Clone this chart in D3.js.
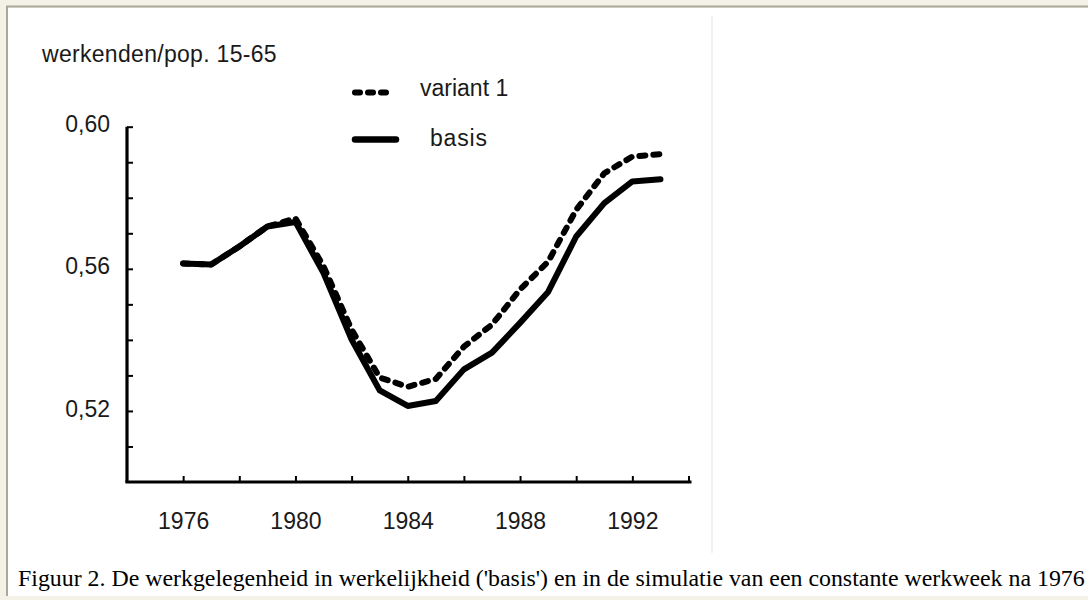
<!DOCTYPE html>
<html><head><meta charset="utf-8">
<script src="https://cdn.jsdelivr.net/npm/d3@7"></script>
<style>
html,body{margin:0;padding:0;background:#fff;}
svg{display:block;}
</style></head>
<body>
<svg id="chart" width="1088" height="600"></svg>
<script>
// ---- data ----
const years = [1976,1977,1978,1979,1980,1981,1982,1983,1984,1985,1986,1987,1988,1989,1990,1991,1992,1993];
const basis = [0.5615,0.5612,0.5663,0.5719,0.5732,0.5588,0.5401,0.5258,0.5214,0.5228,0.5317,0.5364,0.5448,0.5535,0.5691,0.5785,0.5846,0.5852];
const variant1 = [0.5615,0.5612,0.5663,0.5719,0.5742,0.5607,0.5429,0.5294,0.5268,0.5290,0.5381,0.5443,0.5542,0.5620,0.5766,0.5869,0.5916,0.5923];
const xTicks = [1976,1978,1980,1982,1984,1986,1988,1990,1992,1994];
const xLabels = [1976,1980,1984,1988,1992];
const yTicks = [0.51,0.52,0.53,0.54,0.55,0.56,0.57,0.58,0.59,0.60];
const yLabels = [0.52,0.56,0.60];
const yTitle = "werkenden/pop. 15-65";
const legendNames = ["variant 1","basis"];
const caption = "Figuur 2. De werkgelegenheid in werkelijkheid ('basis') en in de simulatie van een constante werkweek na 1976";

const svg = d3.select("#chart");
const W = 1088, H = 600;

// page frame
svg.append("rect").attr("x",0).attr("y",0).attr("width",W).attr("height",H).attr("fill","#f4f2e6");
svg.append("rect").attr("x",8).attr("y",8).attr("width",W-8).attr("height",H-12).attr("fill","#fff");
svg.append("line").attr("x1",6).attr("x2",W).attr("y1",6.5).attr("y2",6.5).attr("stroke","#a9a898").attr("stroke-width",2);
svg.append("line").attr("x1",7).attr("x2",7).attr("y1",6).attr("y2",H-4).attr("stroke","#a9a898").attr("stroke-width",2);
svg.append("line").attr("x1",712).attr("x2",712).attr("y1",16).attr("y2",553).attr("stroke","#ececec").attr("stroke-width",1.5);

const x = d3.scaleLinear().domain([1974,1994]).range([127,688.5]);
const y = d3.scaleLinear().domain([0.50,0.60]).range([482,126.7]);

const font = "'Liberation Sans', Arial, sans-serif";
const fs = 23;

// y axis
const yAxis = d3.axisLeft(y).tickValues(yTicks).tickSizeInner(-6).tickSizeOuter(0).tickPadding(17)
  .tickFormat(d => yLabels.some(v => Math.abs(v-d)<1e-9) ? d3.format(".2f")(d).replace(".",",") : "");
const gy = svg.append("g").attr("transform","translate(127,0)").call(yAxis);
gy.select(".domain").attr("stroke","#000").attr("stroke-width",3.2).attr("d",`M0,${y(0.60)}V${482}`);
gy.selectAll(".tick line").attr("stroke","#000").attr("stroke-width",2);
gy.selectAll(".tick text").attr("font-family",font).attr("font-size",fs).attr("fill","#1a1a1a").attr("dy","0.22em");

// x axis
const xAxis = d3.axisBottom(x).tickValues(xTicks).tickSizeInner(-6).tickSizeOuter(0).tickPadding(31)
  .tickFormat(d => xLabels.includes(d) ? String(d) : "");
const gx = svg.append("g").attr("transform","translate(0,482)").call(xAxis);
gx.select(".domain").attr("stroke","#000").attr("stroke-width",3.2).attr("d",`M${125.4},0H${x(1994)+3}`);
gx.selectAll(".tick line").attr("stroke","#000").attr("stroke-width",2);
gx.selectAll(".tick text").attr("font-family",font).attr("font-size",fs).attr("fill","#1a1a1a");

// title
svg.append("text").attr("x",42).attr("y",62).attr("font-family",font).attr("font-size",fs)
  .attr("fill","#1a1a1a").attr("letter-spacing",0.3).text(yTitle);

// lines
const line = d3.line().x((d,i)=>x(years[i])).y(d=>y(d));
svg.append("path").datum(basis).attr("d",line).attr("fill","none").attr("stroke","#000")
  .attr("stroke-width",6).attr("stroke-linecap","round").attr("stroke-linejoin","round");
svg.append("path").datum(variant1).attr("d",line).attr("fill","none").attr("stroke","#000")
  .attr("stroke-width",6).attr("stroke-linecap","round").attr("stroke-linejoin","round")
  .attr("stroke-dasharray","6,8");

// legend
const leg = svg.append("g");
leg.append("line").attr("x1",355).attr("x2",389).attr("y1",92.5).attr("y2",92.5).attr("stroke","#000")
  .attr("stroke-width",6).attr("stroke-linecap","round").attr("stroke-dasharray","5,8");
leg.append("line").attr("x1",355).attr("x2",396).attr("y1",139.5).attr("y2",139.5).attr("stroke","#000")
  .attr("stroke-width",6.5).attr("stroke-linecap","round");
leg.append("text").attr("x",420).attr("y",96).attr("font-family",font).attr("font-size",fs).attr("fill","#1a1a1a").text(legendNames[0]);
leg.append("text").attr("x",430).attr("y",146).attr("font-family",font).attr("font-size",fs).attr("fill","#1a1a1a")
  .attr("letter-spacing",0.8).text(legendNames[1]);

// caption
const cap = svg.append("text").attr("x",18).attr("y",586).attr("font-family","'Liberation Serif','Times New Roman',serif")
  .attr("font-size",20).attr("fill","#000").text(caption);
const target = 1067;
const len = cap.node().getComputedTextLength();
cap.attr("font-size", 20*target/len);
</script>
</body></html>
